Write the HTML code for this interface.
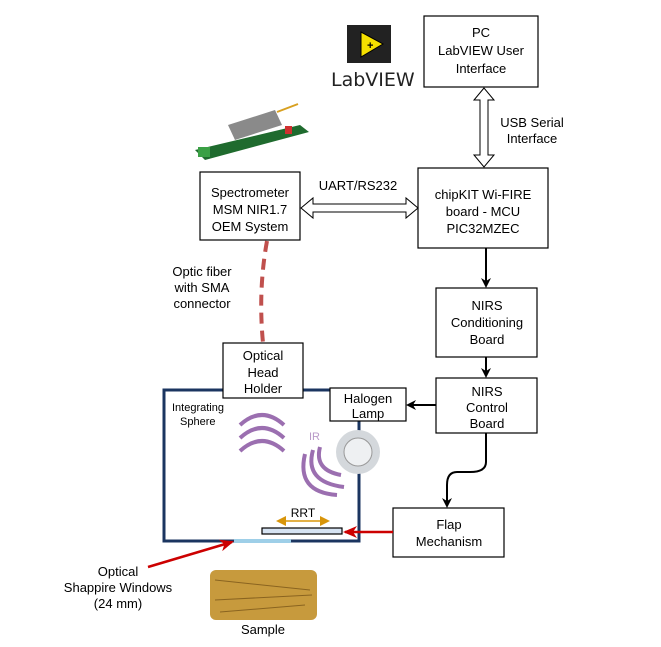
<!DOCTYPE html>
<html><head><style>
html,body{margin:0;padding:0;background:#fff;}
svg{display:block;font-family:"Liberation Sans",sans-serif;}
</style></head><body>
<svg width="661" height="647" viewBox="0 0 661 647" xmlns="http://www.w3.org/2000/svg">
<defs>
<marker id="ab" markerWidth="10" markerHeight="10" refX="8" refY="5" orient="auto" markerUnits="userSpaceOnUse"><path d="M0,0 L10,5 L0,10 L3,5 Z" fill="#000"/></marker>
<marker id="ar" markerWidth="14" markerHeight="12" refX="12" refY="6" orient="auto" markerUnits="userSpaceOnUse"><path d="M0,0 L14,6 L0,12 L4,6 Z" fill="#c00"/></marker>
<marker id="ao" markerWidth="10" markerHeight="10" refX="8" refY="5" orient="auto" markerUnits="userSpaceOnUse"><path d="M0,0 L10,5 L0,10 Z" fill="#d8950a"/></marker>
<marker id="ao2" markerWidth="10" markerHeight="10" refX="2" refY="5" orient="auto" markerUnits="userSpaceOnUse"><path d="M10,0 L0,5 L10,10 Z" fill="#d8950a"/></marker>
</defs>
<g fill="#fff" stroke="#000" stroke-width="1.2">
<rect x="424" y="16" width="114" height="71"/>
<rect x="200" y="172" width="100" height="68"/>
<rect x="418" y="168" width="130" height="80"/>
<rect x="436" y="288" width="101" height="69"/>
<rect x="436" y="378" width="101" height="55"/>
<rect x="393" y="508" width="111" height="49"/>
</g>
<!-- sphere -->
<rect x="164" y="390" width="195" height="151" fill="none" stroke="#1b3560" stroke-width="3"/>
<line x1="234" y1="541" x2="291" y2="541" stroke="#9ecfe8" stroke-width="4"/>
<rect x="262" y="528" width="80" height="6" fill="#d6e3f2" stroke="#000" stroke-width="1.2"/>
<line x1="278" y1="521" x2="328" y2="521" stroke="#d8950a" stroke-width="1.5" marker-end="url(#ao)" marker-start="url(#ao2)"/>
<text x="303" y="517" font-size="12" text-anchor="middle">RRT</text>
<g fill="#fff" stroke="#000" stroke-width="1.2">
<rect x="223" y="343" width="80" height="55"/>
<rect x="330" y="388" width="76" height="33"/>
</g>
<!-- hollow double arrows -->
<path d="M484,88 L474,100 L480,100 L480,155 L474,155 L484,167 L494,155 L488,155 L488,100 L494,100 Z" fill="#fff" stroke="#000"/>
<path d="M301,208 L313,198 L313,204 L406,204 L406,198 L418,208 L406,218 L406,212 L313,212 L313,218 Z" fill="#fff" stroke="#000"/>
<!-- black arrows -->
<g stroke="#000" stroke-width="2" fill="none">
<line x1="486" y1="248" x2="486" y2="286" marker-end="url(#ab)"/>
<line x1="486" y1="357" x2="486" y2="376" marker-end="url(#ab)"/>
<line x1="436" y1="405" x2="408" y2="405" marker-end="url(#ab)"/>
<path d="M486,433 L486,462 Q486,472 470,472 L457,472 Q447,472 447,485 L447,506" marker-end="url(#ab)"/>
</g>
<!-- red -->
<line x1="393" y1="532" x2="345" y2="532" stroke="#c00" stroke-width="2.5" marker-end="url(#ar)"/>
<line x1="148" y1="567" x2="232" y2="542" stroke="#c00" stroke-width="2.5" marker-end="url(#ar)"/>
<path d="M267,241 Q258,290 263,343" stroke="#c0504d" stroke-width="4" fill="none" stroke-dasharray="11,7"/>
<!-- IR waves -->
<g stroke="#9b6fb0" stroke-width="4" fill="none">
<path d="M240,425 Q262,405 284,425"/>
<path d="M240,438 Q262,418 284,438"/>
<path d="M240,451 Q262,431 284,451"/>
<path d="M320,447 Q314,470 341,475"/>
<path d="M313,450 Q304,482 344,487"/>
<path d="M305,454 Q296,492 337,495"/>
</g>
<text x="309" y="440" font-size="11" fill="#b99ac8">IR</text>
<!-- lamp -->
<circle cx="358" cy="452" r="22" fill="#d4d8dc"/>
<circle cx="358" cy="452" r="14" fill="#eef0f2" stroke="#999"/>
<!-- labview icon -->
<rect x="347" y="25" width="44" height="38" fill="#222"/>
<path d="M361,32 L361,57 L383,44 Z" fill="#f5e000" stroke="#000"/>
<text x="367" y="49" font-size="11" font-weight="bold">+</text>
<text x="331" y="86" font-size="19" fill="#222" font-family="'DejaVu Sans',sans-serif">LabVIEW</text>
<!-- spectrometer image -->
<polygon points="195,150 300,125 309,132 205,160" fill="#1f6b2e"/>
<polygon points="228,125 275,110 282,125 235,140" fill="#8a8a8a"/>
<rect x="285" y="126" width="7" height="8" fill="#d03030"/>
<rect x="198" y="147" width="12" height="10" fill="#3aa045"/>
<line x1="277" y1="112" x2="298" y2="104" stroke="#d8a020" stroke-width="2"/>
<!-- text -->
<g font-size="13" text-anchor="middle" fill="#000">
<text x="481" y="37">PC</text><text x="481" y="55">LabVIEW User</text><text x="481" y="73">Interface</text>
<text x="250" y="197">Spectrometer</text><text x="250" y="214">MSM NIR1.7</text><text x="250" y="231">OEM System</text>
<text x="483" y="199">chipKIT Wi-FIRE</text><text x="483" y="216">board - MCU</text><text x="483" y="233">PIC32MZEC</text>
<text x="487" y="310">NIRS</text><text x="487" y="327">Conditioning</text><text x="487" y="344">Board</text>
<text x="487" y="396">NIRS</text><text x="487" y="412">Control</text><text x="487" y="428">Board</text>
<text x="449" y="529">Flap</text><text x="449" y="546">Mechanism</text>
<text x="263" y="360">Optical</text><text x="263" y="377">Head</text><text x="263" y="393">Holder</text>
<text x="368" y="403">Halogen</text><text x="368" y="418">Lamp</text>
<text x="532" y="127">USB Serial</text><text x="532" y="143">Interface</text>
<text x="358" y="190">UART/RS232</text>
<text x="202" y="276">Optic fiber</text><text x="202" y="292">with SMA</text><text x="202" y="308">connector</text>
<text x="118" y="576">Optical</text><text x="118" y="592">Shappire Windows</text><text x="118" y="608">(24 mm)</text>
<text x="263" y="634">Sample</text>
</g>
<text x="172" y="411" font-size="11">Integrating</text>
<text x="180" y="425" font-size="11">Sphere</text>
<!-- hay bale -->
<rect x="210" y="570" width="107" height="50" rx="6" fill="#c79a3d"/>
<g stroke="#8a6420" stroke-width="1">
<line x1="215" y1="580" x2="310" y2="590"/><line x1="215" y1="600" x2="312" y2="595"/><line x1="220" y1="612" x2="305" y2="605"/>
</g>
</svg>
</body></html>
